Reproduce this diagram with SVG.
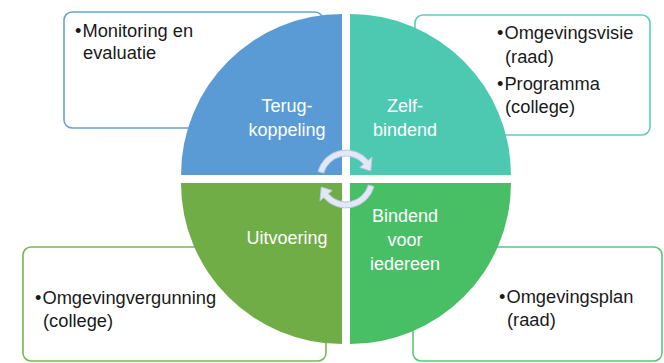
<svg xmlns="http://www.w3.org/2000/svg" width="664" height="363" viewBox="0 0 664 363">
<style>
.box{fill:#ffffff;stroke-width:1.6}
.t{font-family:"Liberation Sans",Arial,sans-serif;font-size:18.3px;fill:#1a1a1a}
.w{font-family:"Liberation Sans",Arial,sans-serif;font-size:18px;fill:#ffffff;text-anchor:middle}
.arr{fill:#e2e8f5;stroke:#b7c7e4;stroke-width:1}
</style>
<rect width="664" height="363" fill="#ffffff"/>
<g id="box-monitoring">
<rect class="box" x="64" y="12" width="259" height="116" rx="8" stroke="#6aa3da"/>
<text class="t" x="75" y="37">•<tspan dx="1">Monitoring en</tspan></text>
<text class="t" x="83" y="59">evaluatie</text>
</g>
<g id="box-visie">
<rect class="box" x="415" y="15" width="235" height="120" rx="8" stroke="#5ccfb8"/>
<text class="t" x="497" y="39">•<tspan dx="1">Omgevingsvisie</tspan></text>
<text class="t" x="505" y="63">(raad)</text>
<text class="t" x="497" y="90">•<tspan dx="1">Programma</tspan></text>
<text class="t" x="505" y="113">(college)</text>
</g>
<g id="box-vergunning">
<rect class="box" x="23" y="247" width="303" height="114" rx="8" stroke="#7bb554"/>
<text class="t" x="35" y="304">•<tspan dx="1">Omgevingvergunning</tspan></text>
<text class="t" x="43" y="327">(college)</text>
</g>
<g id="box-plan">
<rect class="box" x="413" y="247" width="249" height="114" rx="8" stroke="#5cc676"/>
<text class="t" x="499" y="303">•<tspan dx="1">Omgevingsplan</tspan></text>
<text class="t" x="507" y="326">(raad)</text>
</g>
<g id="q-terugkoppeling">
<path d="M342,175 L181,175 A161,161 0 0 1 342,14 Z" fill="#5b9bd5"/>
<text class="w" x="287" y="112">Terug-</text>
<text class="w" x="287" y="136">koppeling</text>
</g>
<g id="q-zelfbindend">
<path d="M350,175 L350,14 A161,161 0 0 1 511,175 Z" fill="#4ec9b1"/>
<text class="w" x="405" y="112">Zelf-</text>
<text class="w" x="405" y="136">bindend</text>
</g>
<g id="q-uitvoering">
<path d="M342,183 L342,344 A161,161 0 0 1 181,183 Z" fill="#70ad47"/>
<text class="w" x="287" y="244">Uitvoering</text>
</g>
<g id="q-bindend">
<path d="M350,183 L511,183 A161,161 0 0 1 350,344 Z" fill="#48bf65"/>
<text class="w" x="405" y="222">Bindend</text>
<text class="w" x="405" y="246">voor</text>
<text class="w" x="405" y="270">iedereen</text>
</g>
<g id="connectors">
<path class="arr" d="M317.99,171.49 A29,29 0 0 1 368.21,160.36 L372.04,157.14 L370.73,170.97 L359.79,167.43 L363.62,164.22 A23,23 0 0 0 323.78,173.05 Z"/>
<path class="arr" transform="rotate(180 346 179)" d="M317.99,171.49 A29,29 0 0 1 368.21,160.36 L372.04,157.14 L370.73,170.97 L359.79,167.43 L363.62,164.22 A23,23 0 0 0 323.78,173.05 Z"/>
</g>
</svg>
